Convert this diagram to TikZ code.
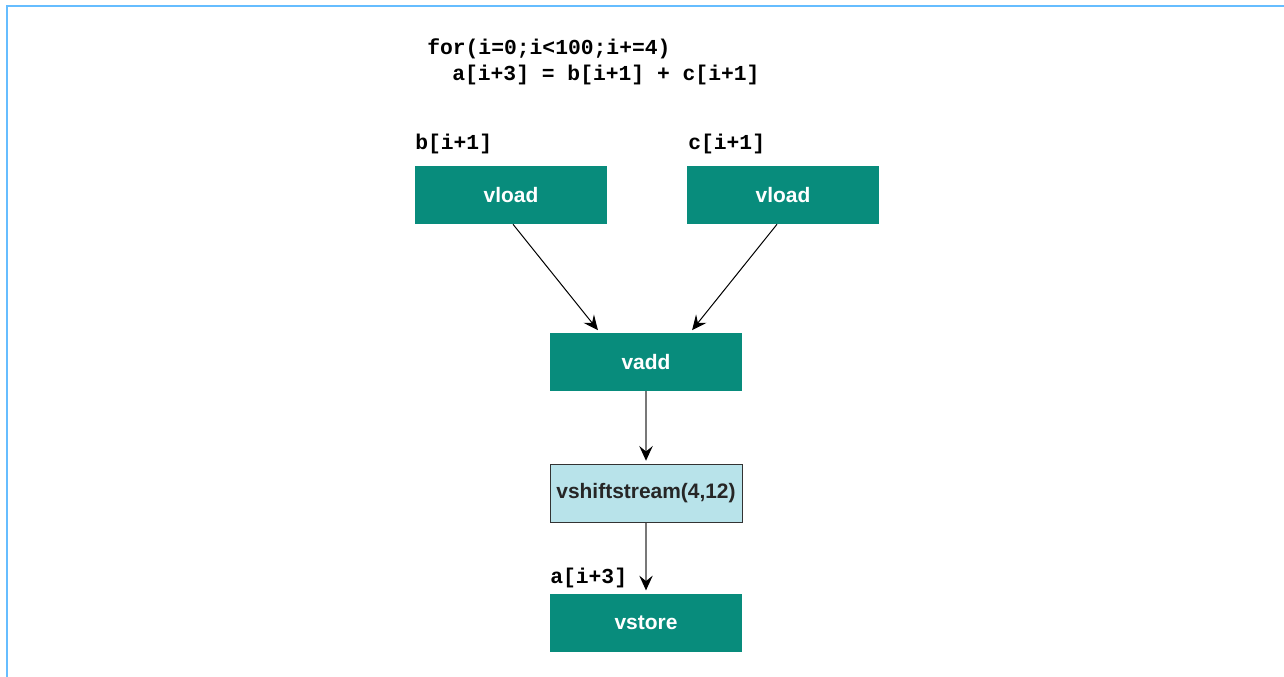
\documentclass[tikz,border=0pt]{standalone}
\usepackage{fontspec}
\setmainfont{Liberation Sans}
\setmonofont{Liberation Mono}
\usetikzlibrary{positioning, arrows.meta}
\definecolor{opteal}{RGB}{8,140,124}
\definecolor{shiftblue}{RGB}{184,227,234}
\definecolor{frameblue}{RGB}{102,189,255}
\definecolor{linkgray}{RGB}{120,120,120}

\begin{document}
\begin{tikzpicture}[
    x=0.75pt, y=-0.75pt,
    op/.style={draw=none, rectangle, minimum width=144pt, minimum height=43.5pt,
               align=center, fill=opteal, text=white,
               font=\fontsize{15.7}{18}\selectfont\bfseries},
    shiftop/.style={op, draw=black!80, fill=shiftblue, text=black!85, line width=0.6pt},
    code/.style={anchor=west, inner sep=0pt, font=\fontsize{16}{19}\selectfont\ttfamily\bfseries},
    tipped/.style={-{Stealth[length=11pt, width=10pt, inset=4pt, color=black]}, shorten >=2.5pt},
    arrow/.style={tipped, draw=black, line width=0.75pt},
    varrow/.style={tipped, draw=linkgray, line width=1.5pt}
]
\useasboundingbox (0,0) rectangle (1284,677);

% frame
\draw[frameblue, line width=1.6pt] (7,690) -- (7,6) -- (1290,6);

% loop source
\node[code] (loop) at (427,49) {for(i=0;i<100;i+=4)};
\node[code] (body) at (452,75) {a[i+3] = b[i+1] + c[i+1]};

% operations
\node[op] (loadb) at (511,195) {vload};
\node[op] (loadc) at (783,195) {vload};
\node[op] (add) at (646,362) {vadd};
\node[shiftop] (shift) at (646,493.5) {vshiftstream(4,12)};
\node[op] (store) at (646,623) {vstore};

% operand labels
\node[code] (lblb) at (415,144) {b[i+1]};
\node[code] (lblc) at (688,144) {c[i+1]};
\node[code] (lbla) at (550,578) {a[i+3]};

\draw[arrow] ([xshift=1.5pt]loadb.south) -- ([xshift=-34.5pt]add.north);
\draw[arrow] ([xshift=-4.5pt]loadc.south) -- ([xshift=33pt]add.north);
\draw[varrow] (add) -- (shift);
\draw[varrow] (shift) -- (store);

\end{tikzpicture}
\end{document}
